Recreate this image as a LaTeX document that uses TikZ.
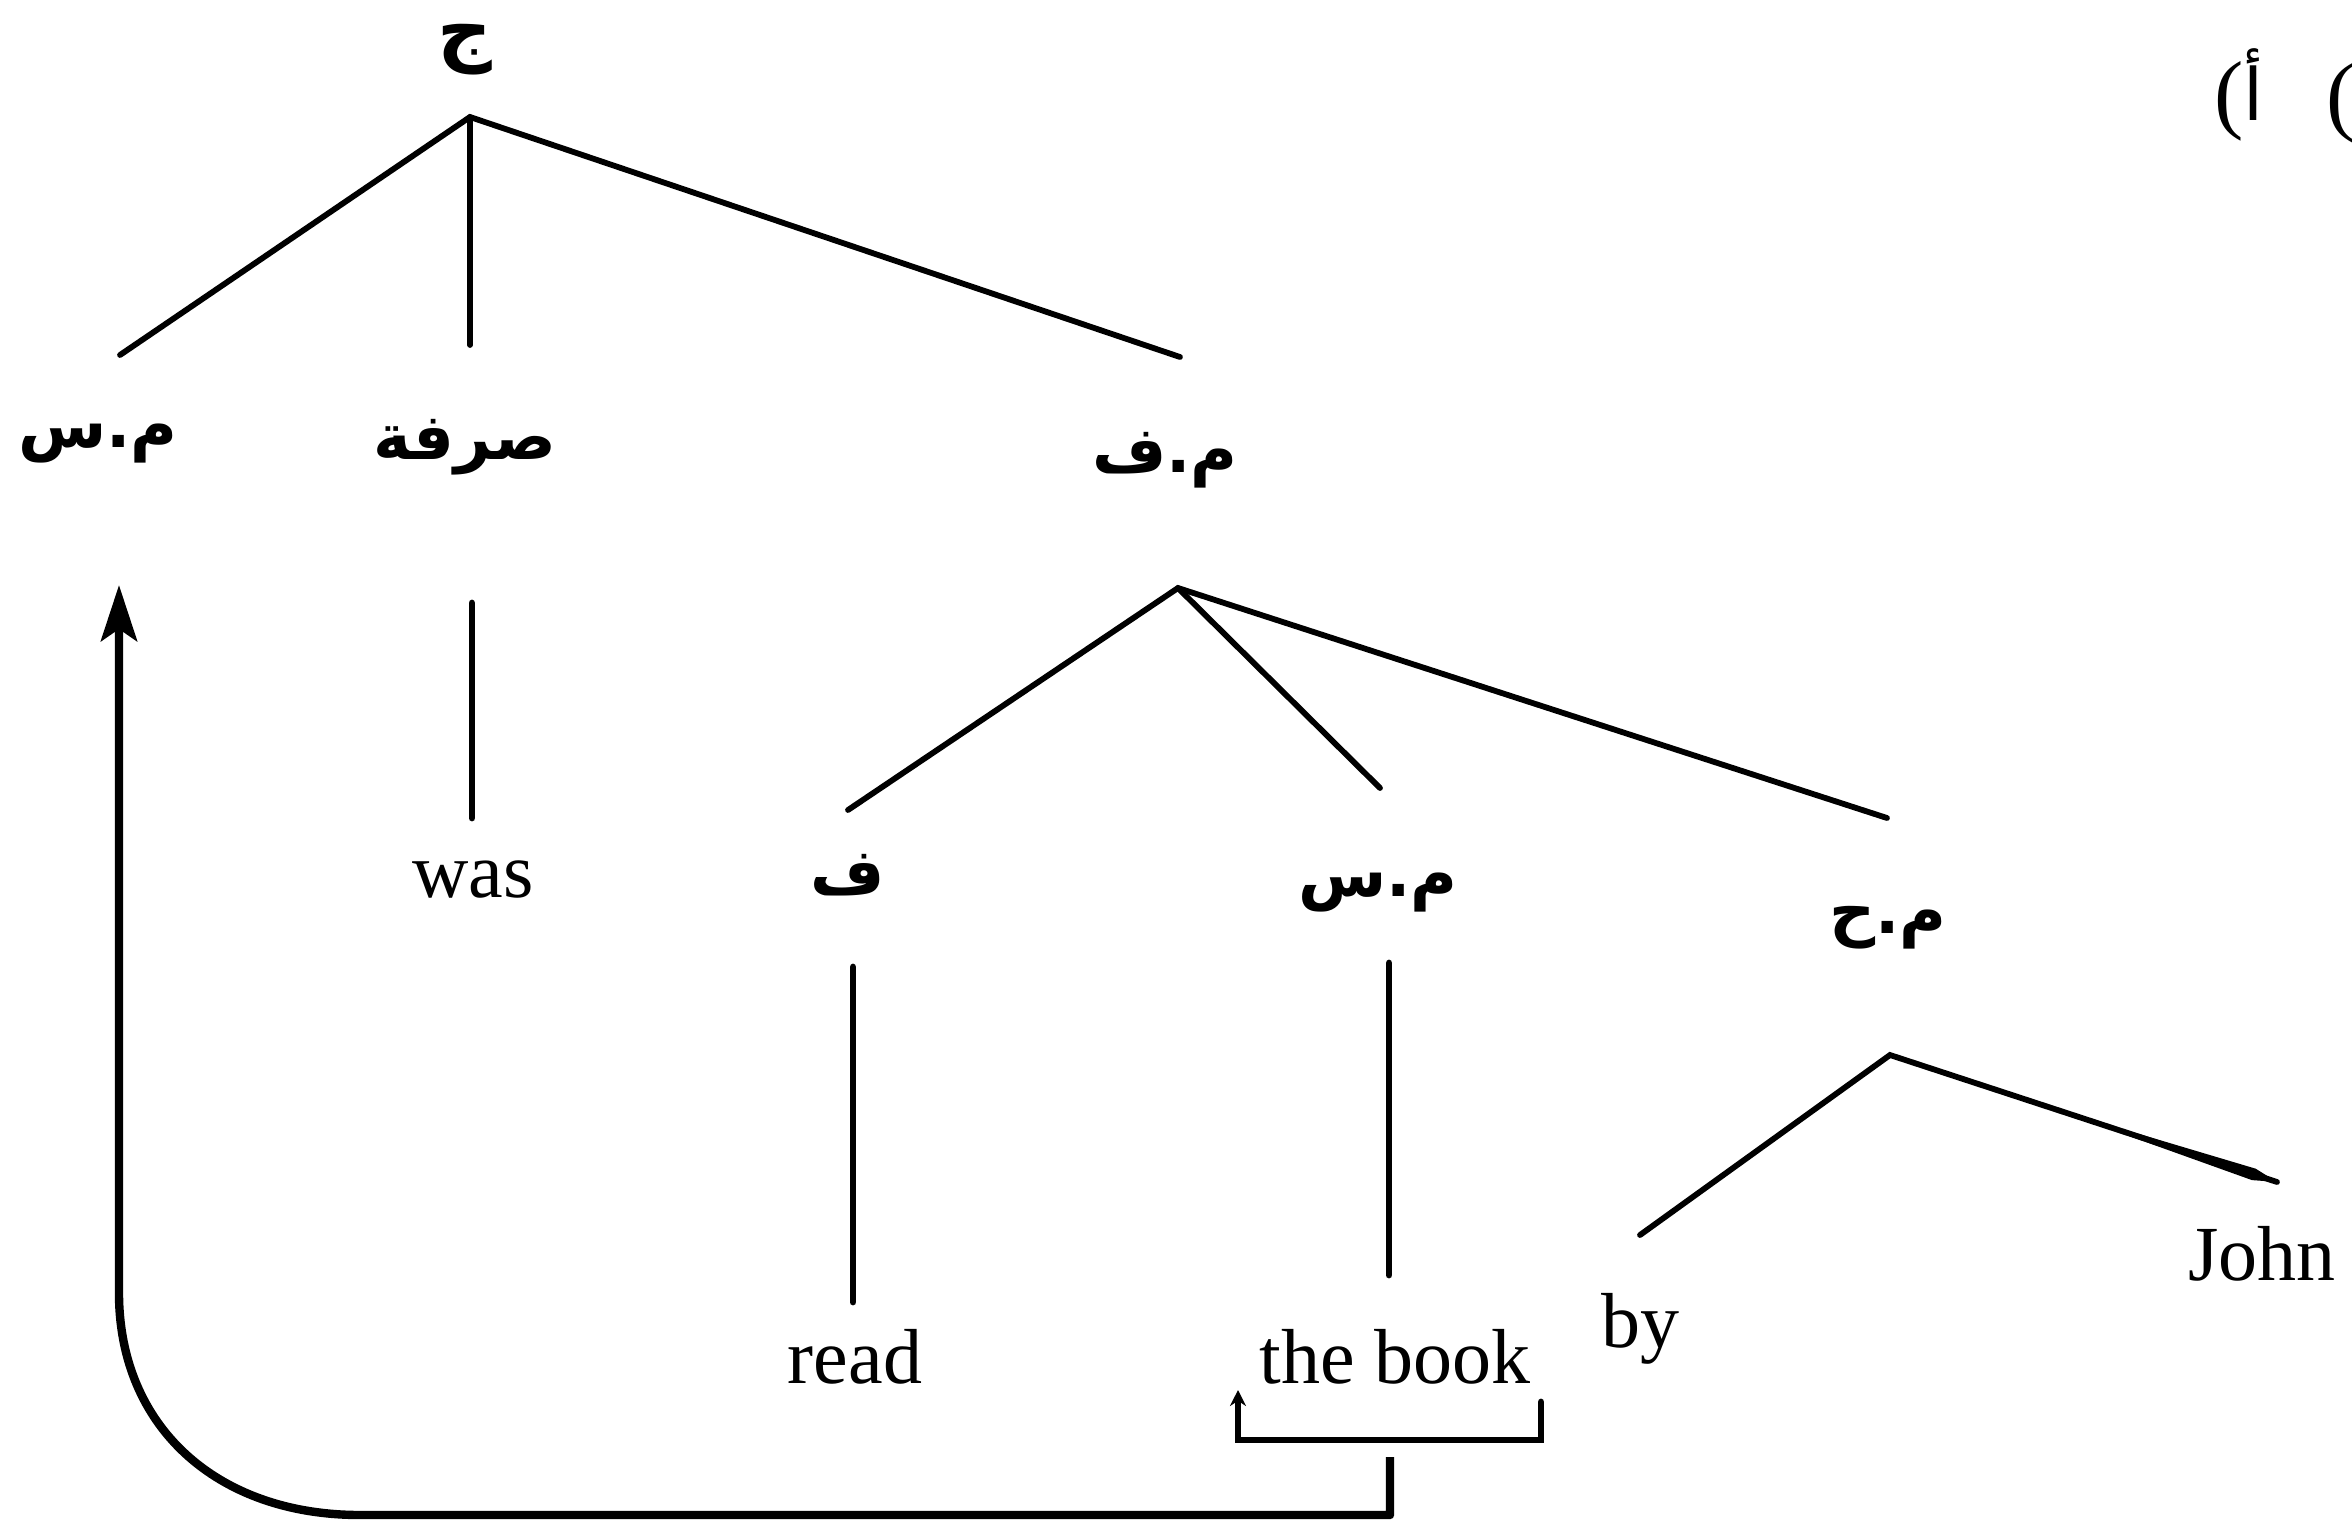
\documentclass[tikz,border=0pt]{standalone}
\usepackage{fontspec}
\setmainfont{Liberation Serif}
\newfontfamily\arabicfont[Script=Arabic]{DejaVu Sans}
\newfontfamily\arabicbold[Script=Arabic]{DejaVu Sans Bold}
\TeXXeTstate=1
\usetikzlibrary{arrows.meta,calc}

\begin{document}
\begin{tikzpicture}[x=0.5pt,y=-0.5pt,
  ar/.style={font=\arabicbold\fontsize{32}{38}\selectfont, inner sep=0pt},
  en/.style={font=\fontsize{39}{44}\selectfont, inner sep=0pt, anchor=base},
  branch/.style={line width=2.9pt, line cap=round},
  stem/.style={line width=3.4pt, line cap=round},
  move/.style={line width=4.2pt, line join=round},
]
\useasboundingbox (0,0) rectangle (2352,1531);

% example mark in the upper right corner
\node[font=\fontsize{44}{48}\selectfont, inner sep=0pt] (parL) at (2229,101) {(};
\node[font=\arabicfont\fontsize{36}{40}\selectfont, inner sep=0pt, anchor=base] (ex) at (2253,120) {\beginR أ\endR};
\node[font=\fontsize{44}{48}\selectfont, inner sep=0pt] (parR) at (2341,103) {(};

% category labels
\node[ar, font=\arabicbold\fontsize{38}{42}\selectfont] (S) at (465,50) {\beginR ج\endR};
\node[ar] (NP1) at (98,444)   {\beginR م.س\endR};
\node[ar] (AUX) at (465,447)  {\beginR صرفة\endR};
\node[ar] (VP)  at (1165,460) {\beginR م.ف\endR};
\node[ar] (V)   at (848,875)  {\beginR ف\endR};
\node[ar] (NP2) at (1378,893) {\beginR م.س\endR};
\node[ar] (PP)  at (1888,928) {\beginR م.ح\endR};

% words
\node[en] (was)  at (473,897)   {was};
\node[en] (read) at (855,1383)  {read};
\node[en] (book) at (1395,1383) {the book};
\node[en] (by)   at (1640,1347) {by};
\node[en] (John) at (2262,1280) {John};

% branch end points
\coordinate (S-apex)   at (470,117);
\coordinate (NP1-top)  at (120,355);
\coordinate (AUX-top)  at (470,345);
\coordinate (VP-top)   at (1180,357);
\coordinate (VP-apex)  at (1178,588);
\coordinate (V-top)    at (848,810);
\coordinate (NP2-top)  at (1380,788);
\coordinate (PP-top)   at (1887,818);
\coordinate (AUX-low)  at (472,603);
\coordinate (was-top)  at (472,818);
\coordinate (V-low)    at (853,967);
\coordinate (read-top) at (853,1302);
\coordinate (NP2-low)  at (1389,963);
\coordinate (book-top) at (1389,1275);
\coordinate (PP-apex)  at (1890,1055);
\coordinate (by-top)   at (1640,1235);
\coordinate (John-top) at (2277,1182);

% tree branches
\draw[branch] (NP1-top) -- (S-apex) -- (VP-top);
\draw[branch] (S-apex) -- (AUX-top);
\draw[branch] (V-top) -- (VP-apex) -- (PP-top);
\draw[branch] (VP-apex) -- (NP2-top);
\draw[stem] (AUX-low) -- (was-top);
\draw[stem] (V-low) -- (read-top);
\draw[stem] (NP2-low) -- (book-top);
\draw[branch] (by-top) -- (PP-apex) -- (John-top);

% tapering end of the branch to John
\coordinate (w-start) at ($(PP-apex)!0.4!(John-top)$);
\coordinate (w-wide)  at ($(PP-apex)!0.94!(John-top)$);
\fill (w-start) -- ($(w-wide)!3pt!90:(John-top)$) -- (John-top)
      -- ($(w-wide)!3pt!-90:(John-top)$) -- cycle;

% bracket under the moved phrase
\coordinate (br-L-top) at (1238,1390);
\coordinate (br-L-bot) at (1238,1440);
\coordinate (br-R-bot) at (1541,1440);
\coordinate (br-R-top) at (1541,1402);
\draw[stem, line join=miter, {Stealth[length=8pt,width=8pt]}-]
  (br-L-top) -- (br-L-bot) -- (br-R-bot) -- (br-R-top);

% movement arrow back to the subject position
\coordinate (mv-stem)   at (1390,1457);
\coordinate (mv-corner) at (1390,1515);
\coordinate (mv-bend)   at (360,1515);
\coordinate (mv-rise)   at (119,1293);
\coordinate (NP1-goal)  at (119,585);
\draw[move, -{Stealth[length=28pt,width=18pt,inset=6pt]}]
  (mv-stem) -- (mv-corner) -- (mv-bend)
  .. controls (216,1515) and (119,1426) .. (mv-rise) -- (NP1-goal);
\end{tikzpicture}
\end{document}
